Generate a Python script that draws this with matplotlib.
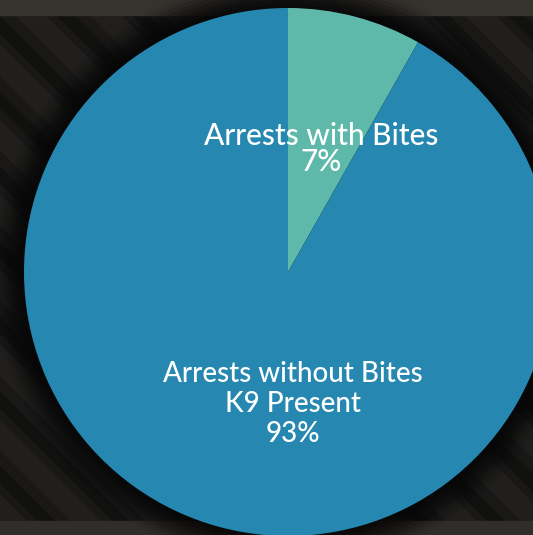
import numpy as np
import matplotlib.pyplot as plt
from matplotlib.patches import Circle, Rectangle

# data
categories = ["Arrests with Bites", "Arrests without Bites\nK9 Present"]
shares = [8.2, 91.8]          # wedge sizes as drawn
pct_labels = ["7%", "93%"]    # percentages as printed
colors = ["#5fb9aa", "#2688b0"]

fig = plt.figure(figsize=(5.33, 5.35), dpi=100)
fig.patch.set_facecolor("#191817")
ax = fig.add_axes([0, 0, 1, 1])
ax.set_facecolor("#191817")

# textured dark background: soft diagonal bands
for k in range(-8, 12):
    x0 = k * 75
    ax.plot([x0 - 300, x0 + 500], [700, -100], color="#2a2825", lw=16, alpha=0.45, zorder=0)
    ax.plot([x0 - 265, x0 + 535], [700, -100], color="#0b0b0b", lw=9, alpha=0.5, zorder=0)
ax.add_patch(Rectangle((0, 520), 533, 15, color="#36332f", zorder=0.5))
ax.add_patch(Rectangle((0, 0), 533, 14, color="#302d2a", zorder=0.5))

# dark halo around the pie
cx, cy, r = 288, 263, 264
for i, a in enumerate(np.linspace(0.15, 0.9, 8)):
    ax.add_patch(Circle((cx, cy), r + 32 - i * 4, color="#060606", alpha=a * 0.4, lw=0, zorder=1))

wedges, _ = ax.pie(shares, colors=colors, startangle=90, counterclock=False,
                   center=(cx, cy), radius=r, frame=True,
                   wedgeprops=dict(linewidth=0, zorder=2, antialiased=True))

font = "Lato"
ax.text(321, 386, categories[0] + "\n" + pct_labels[0], color="white", fontsize=21.5,
        family=font, weight="medium", ha="center", va="center", linespacing=0.88, zorder=3)
ax.text(293, 131, categories[1] + "\n" + pct_labels[1], color="white", fontsize=20,
        family=font, weight="medium", ha="center", va="center", linespacing=1.2, zorder=3)

ax.set_xlim(0, 533)
ax.set_ylim(0, 535)
ax.set_aspect("equal")
ax.axis("off")

fig.savefig("out.png", dpi=100, facecolor=fig.get_facecolor())
